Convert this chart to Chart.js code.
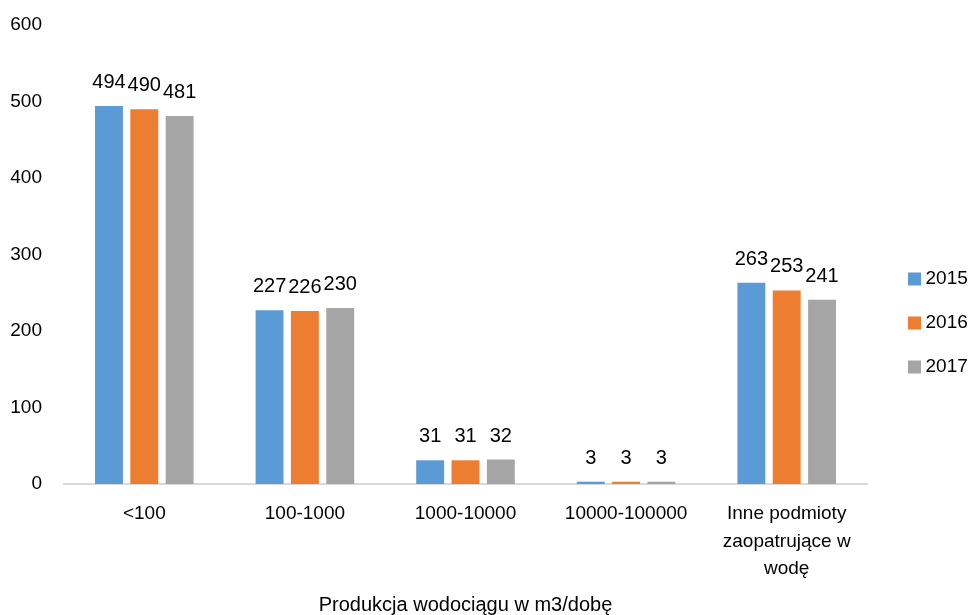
<!DOCTYPE html>
<html><head><meta charset="utf-8">
<script src="https://cdn.jsdelivr.net/npm/chart.js@4"></script>
<style>html,body{margin:0;padding:0;background:#fff}#wrap{width:973px;height:615px}</style>
</head><body><div id="wrap"><canvas id="c" width="973" height="615"></canvas></div>
<script>
const categories = ['<100', '100-1000', '1000-10000', '10000-100000', ['Inne podmioty', 'zaopatrujące w', 'wodę']];
const seriesNames = ['2015', '2016', '2017'];
const values2015 = [494, 227, 31, 3, 263];
const values2016 = [490, 226, 31, 3, 253];
const values2017 = [481, 230, 32, 3, 241];
const yTicks = [0, 100, 200, 300, 400, 500, 600];
const xTitle = 'Produkcja wodociągu w m3/dobę';

const FONT = "'Liberation Sans', Arial, sans-serif";
const colors = ['#5B9BD5', '#ED7D31', '#A5A5A5'];

const valueLabels = {
  id: 'valueLabels',
  afterDatasetsDraw(chart) {
    const ctx = chart.ctx;
    ctx.save();
    ctx.font = '20px ' + FONT;
    ctx.fillStyle = '#000';
    ctx.textAlign = 'center';
    ctx.textBaseline = 'alphabetic';
    chart.data.datasets.forEach((ds, i) => {
      const meta = chart.getDatasetMeta(i);
      meta.data.forEach((bar, j) => {
        ctx.fillText(String(ds.data[j]), bar.x, bar.y - 18);
      });
    });
    ctx.restore();
  }
};

const dataSets = [values2015, values2016, values2017].map((v, i) => ({
  label: seriesNames[i], data: v, backgroundColor: colors[i], borderWidth: 0,
  categoryPercentage: 0.66, barPercentage: 0.79
}));

const chart = new Chart(document.getElementById('c'), {
  type: 'bar',
  data: { labels: categories, datasets: dataSets },
  options: {
    responsive: false, animation: false,
    layout: { padding: { left: 0, right: 0, top: 25, bottom: 0 } },
    plugins: {
      tooltip: { enabled: false },
      legend: {
        position: 'right', align: 'start',
        labels: { usePointStyle: true, pointStyle: 'rect', boxWidth: 3, boxHeight: 13, padding: 25, color: '#000', font: { family: FONT, size: 19 } }
      }
    },
    scales: {
      x: {
        afterFit(axis) { axis.height = 131; axis.paddingLeft = 0; axis.paddingRight = 0; axis.paddingTop = 0; axis.paddingBottom = 0; },
        grid: { display: false, drawTicks: false },
        border: { display: true, color: '#D9D9D9', width: 2 },
        ticks: { color: '#000', font: { family: FONT, size: 19, lineHeight: 1.45 }, padding: 16, maxRotation: 0, autoSkip: false },
        title: { display: true, text: xTitle, color: '#000', font: { family: FONT, size: 20, lineHeight: 1.2 }, padding: { top: 0, bottom: -2 } }
      },
      y: {
        min: 0, max: 600,
        afterFit(axis) { axis.width = 64; axis.paddingTop = 0; axis.paddingBottom = 0; axis.paddingLeft = 0; axis.paddingRight = 0; },
        afterBuildTicks(axis) { axis.ticks = yTicks.map(v => ({ value: v })); },
        grid: { display: false, drawTicks: false },
        border: { display: false },
        ticks: { color: '#000', font: { family: FONT, size: 19 }, padding: 22 }
      }
    }
  },
  plugins: [valueLabels]
});

// place legend block: fixed width to the right of the plot, items shifted into position
const lg = chart.legend;
const origFit = lg.fit.bind(lg);
lg.fit = function () { origFit(); this.width = 106; };
const origDraw = lg.draw.bind(lg);
lg.draw = function (area) {
  const ctx = this.ctx;
  ctx.save();
  ctx.translate(21, 279 - (this.top + 25 + 9.5));
  origDraw(area);
  ctx.restore();
};
chart.update();
</script></body></html>
